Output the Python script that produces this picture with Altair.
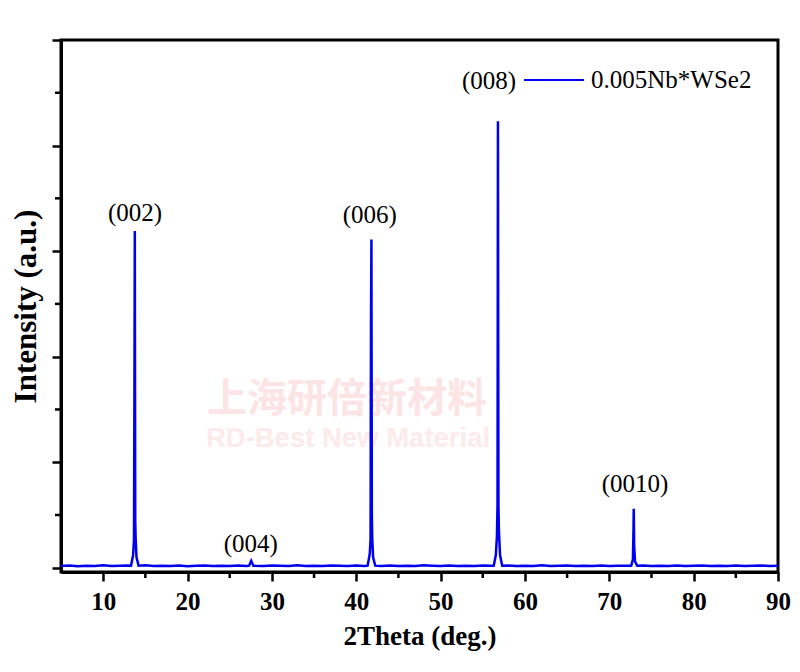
import altair as alt
import pandas as pd

# ---- data ----
base_x = list(range(5, 91))
base_y = [0.018, 0.022, 0.015, 0.020, 0.017, 0.024, 0.016, 0.019, 0.021, 0.018,
          0.023, 0.016, 0.020, 0.018, 0.022, 0.015, 0.019, 0.021, 0.017, 0.020,
          0.016, 0.022, 0.018, 0.020, 0.016, 0.021, 0.019, 0.017, 0.023, 0.018,
          0.020, 0.016, 0.022, 0.019, 0.017, 0.021, 0.018, 0.020, 0.016, 0.022,
          0.018, 0.020, 0.017, 0.023, 0.019, 0.016, 0.021, 0.018, 0.020, 0.017,
          0.022, 0.019, 0.018, 0.021, 0.016, 0.020, 0.018, 0.023, 0.017, 0.019,
          0.021, 0.016, 0.020, 0.018, 0.022, 0.017, 0.019, 0.020, 0.018, 0.021,
          0.016, 0.020, 0.018, 0.022, 0.017, 0.019, 0.021, 0.016, 0.020, 0.018,
          0.022, 0.017, 0.019, 0.021, 0.016, 0.020]

peak_centers = [13.75, 27.55, 41.8, 56.8, 72.9]
peak_x = [13.3, 13.55, 13.65, 13.7, 13.75, 13.8, 13.85, 13.95, 14.2,
          27.3, 27.55, 27.8,
          41.35, 41.6, 41.7, 41.75, 41.8, 41.85, 41.9, 42.0, 42.25,
          56.3, 56.55, 56.68, 56.75, 56.8, 56.86, 56.92, 57.05, 57.3,
          72.6, 72.8, 72.87, 72.9, 72.95, 73.05, 73.3]
peak_y = [0.02, 0.12, 0.26, 1.52, 3.19, 0.45, 0.28, 0.10, 0.02,
          0.02, 0.066, 0.02,
          0.02, 0.13, 0.27, 2.33, 3.11, 0.50, 0.27, 0.10, 0.02,
          0.02, 0.12, 0.30, 0.60, 4.23, 0.58, 0.34, 0.12, 0.02,
          0.02, 0.08, 0.36, 0.56, 0.20, 0.06, 0.02]

ann_labels = ["(002)", "(004)", "(006)", "(008)", "(0010)"]
ann_x = [13.77, 27.5, 41.6, 55.74, 73.05]
ann_y = [3.365, 0.227, 3.346, 4.607, 0.796]

x_major = [10, 20, 30, 40, 50, 60, 70, 80, 90]
x_minor = [15, 25, 35, 45, 55, 65, 75, 85]
y_major = [0, 1, 2, 3, 4, 5]
y_minor = [0.5, 1.5, 2.5, 3.5, 4.5]

series_name = "0.005Nb*WSe2"
watermark = ["上海研倍新材料", "RD-Best New Material"]

# ---- build table ----
rows = [(x, y) for x, y in zip(base_x, base_y)
        if all(abs(x - c) > 0.5 for c in peak_centers)]
rows += list(zip(peak_x, peak_y))
rows.sort()
df = pd.DataFrame(rows, columns=["x", "y"])
df["s"] = series_name

ann = pd.DataFrame({"x": ann_x, "y": ann_y, "t": ann_labels})

W, H = 717, 532
BLUE = "#0000ee"
SERIF = "Liberation Serif"

xscale = alt.Scale(domain=[5, 90], nice=False, zero=False)
yscale = alt.Scale(domain=[-0.04, 5.0], nice=False, zero=False)

wm = alt.Chart(pd.DataFrame({"t": watermark[:1]})).mark_text(
    font="Noto Sans CJK SC", fontWeight="bold", fontSize=40, color="#fde4e4",
    align="center", baseline="middle"
).encode(text="t:N", x=alt.value(286), y=alt.value(360))

wm2 = alt.Chart(pd.DataFrame({"t": watermark[1:]})).mark_text(
    font="Liberation Sans", fontWeight="bold", fontSize=27.5, color="#fdeaea",
    align="center", baseline="middle"
).encode(text="t:N", x=alt.value(287), y=alt.value(399))

line = alt.Chart(df).mark_line(strokeWidth=2.5, interpolate="linear").encode(
    x=alt.X("x:Q", scale=xscale,
            axis=alt.Axis(values=x_major, format="d", title="2Theta (deg.)",
                          tickSize=9, labelPadding=8, titlePadding=9,
                          titleFontSize=27,
                          labelFlush=False, labelOverlap=False)),
    y=alt.Y("y:Q", scale=yscale,
            axis=alt.Axis(values=y_major, labels=False, title="Intensity (a.u.)",
                          tickSize=9, titlePadding=8, titleFontSize=31)),
    color=alt.Color("s:N", scale=alt.Scale(domain=[series_name], range=[BLUE]),
                    legend=alt.Legend(title=None, orient="none", legendX=462,
                                      legendY=9, symbolType="stroke",
                                      symbolSize=3600, symbolStrokeWidth=2,
                                      labelFont=SERIF, labelFontSize=25,
                                      labelColor="black", labelOffset=6,
                                      padding=0, labelLimit=400)),
)

text = alt.Chart(ann).mark_text(font=SERIF, fontSize=25, color="black",
                                align="center", baseline="middle").encode(
    x=alt.X("x:Q", scale=xscale), y=alt.Y("y:Q", scale=yscale), text="t:N")

xmin = alt.Chart(pd.DataFrame({"v": x_minor})).mark_rule(color="black", strokeWidth=2.5).encode(
    x=alt.X("v:Q", scale=xscale), y=alt.value(H), y2=alt.value(H + 6))
ymin = alt.Chart(pd.DataFrame({"v": y_minor})).mark_rule(color="black", strokeWidth=2.5).encode(
    y=alt.Y("v:Q", scale=yscale), x=alt.value(0), x2=alt.value(-6))

chart = alt.layer(wm, wm2, line, text, xmin, ymin).properties(
    width=W, height=H,
    autosize=alt.AutoSizeParams(type="none"),
    padding={"left": 53, "top": 32, "right": 14, "bottom": 92},
    background="white",
).configure_view(stroke="black", strokeWidth=3).configure_axis(
    grid=False, domainColor="black", domainWidth=3, tickColor="black",
    tickWidth=2.5, labelFont=SERIF, labelFontWeight="bold", labelFontSize=25,
    labelColor="black", titleFont=SERIF, titleFontWeight="bold",
    titleFontSize=26, titleColor="black")

chart.save("out.html", embed_options={"renderer": "svg", "actions": False})
